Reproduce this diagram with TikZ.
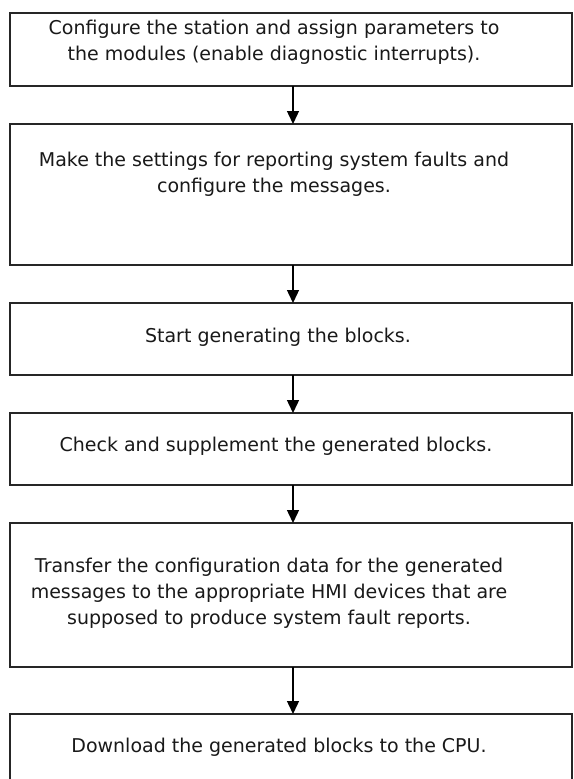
\documentclass[tikz,border=0pt]{standalone}
\usepackage{fontspec}
\setmainfont{DejaVu Sans}
\usetikzlibrary{arrows.meta}
\begin{document}
\begin{tikzpicture}[x=1pt,y=-1pt,
  box/.style={draw=black!85, line width=1.6pt, fill=white, inner sep=0pt, outer sep=0pt},
  txt/.style={align=center, font=\fontsize{19}{26}\selectfont, text=black!90, inner sep=0pt},
  arr/.style={draw=black, line width=1.4pt, -{Triangle[length=13pt,width=12pt]}}]
\useasboundingbox (0,0) rectangle (573,779);
\clip (0,0) rectangle (573,779);
\fill[white] (0,0) rectangle (573,779);
\coordinate (ax) at (293,0);
\node[box, minimum width=562pt, minimum height=73pt]  (b1) at (291,49.5) {};
\node[box, minimum width=562pt, minimum height=141pt] (b2) at (291,194.5) {};
\node[box, minimum width=562pt, minimum height=72pt]  (b3) at (291,339) {};
\node[box, minimum width=562pt, minimum height=72pt]  (b4) at (291,449) {};
\node[box, minimum width=562pt, minimum height=144pt] (b5) at (291,595) {};
\node[box, minimum width=562pt, minimum height=86pt]  (b6) at (291,757) {};
\node[txt] (t1) at (274,42.5) {Configure the station and assign parameters to\\the modules (enable diagnostic interrupts).};
\node[txt] (t2) at (274,174) {Make the settings for reporting system faults and\\configure the messages.};
\node[txt] (t3) at (278,337) {Start generating the blocks.};
\node[txt] (t4) at (276,446) {Check and supplement the generated blocks.};
\node[txt] (t5) at (269,593) {Transfer the configuration data for the generated\\messages to the appropriate HMI devices that are\\supposed to produce system fault reports.};
\node[txt] (t6) at (279,747) {Download the generated blocks to the CPU.};
\draw[arr] (b1.south -| ax) -- (b2.north -| ax);
\draw[arr] (b2.south -| ax) -- (b3.north -| ax);
\draw[arr] (b3.south -| ax) -- (b4.north -| ax);
\draw[arr] (b4.south -| ax) -- (b5.north -| ax);
\draw[arr] (b5.south -| ax) -- (b6.north -| ax);
\end{tikzpicture}
\end{document}
